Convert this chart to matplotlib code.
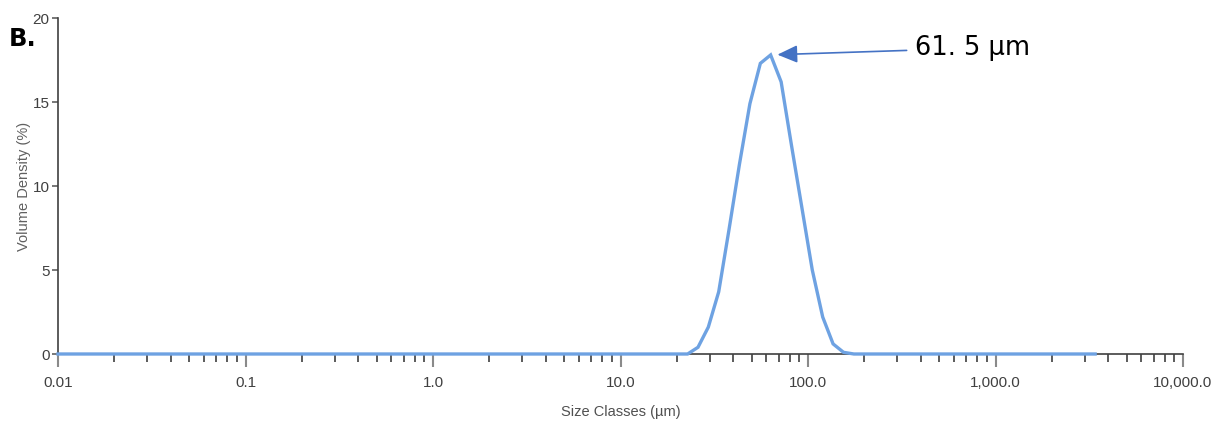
import matplotlib
matplotlib.use("Agg")
import matplotlib.pyplot as plt
from matplotlib.ticker import FixedLocator, LogLocator, NullFormatter

# ---- data ----
size_um = [0.01, 22.8, 25.9, 29.4, 33.4, 37.9, 43.1, 49.0, 55.7, 63.2, 71.9,
           81.7, 92.8, 105.4, 119.8, 136.1, 154.7, 175.7, 3400]
volume_pct = [0, 0, 0.4, 1.6, 3.7, 7.4, 11.3, 14.9, 17.3, 17.8, 16.2,
              12.4, 8.7, 5.0, 2.2, 0.6, 0.1, 0, 0]
x_ticks = [0.01, 0.1, 1.0, 10.0, 100.0, 1000.0, 10000.0]
x_tick_labels = ["0.01", "0.1", "1.0", "10.0", "100.0", "1,000.0", "10,000.0"]
y_ticks = [0, 5, 10, 15, 20]
y_tick_labels = ["0", "5", "10", "15", "20"]
peak_label = "61. 5 µm"
peak_size = 61.5
panel_label = "B."

narrow = ["Liberation Sans Narrow", "DejaVu Sans Condensed", "Liberation Sans", "DejaVu Sans"]

fig = plt.figure(figsize=(12.17, 4.26), dpi=100)
ax = fig.add_axes([58 / 1217, 72 / 426, 1125 / 1217, 336 / 426])

ax.plot(size_um, volume_pct, color="#6EA2E2", lw=2.4, clip_on=False, zorder=5,
        solid_joinstyle="miter")

ax.set_xscale("log")
ax.set_xlim(0.01, 10000)
ax.set_ylim(0, 20)

for s in ["top", "right"]:
    ax.spines[s].set_visible(False)
for s in ["left", "bottom"]:
    ax.spines[s].set_color("#404040")
    ax.spines[s].set_linewidth(1.2)

ax.xaxis.set_major_locator(FixedLocator(x_ticks))
ax.set_xticklabels(x_tick_labels)
ax.xaxis.set_minor_locator(LogLocator(base=10, subs=range(2, 10), numticks=20))
ax.xaxis.set_minor_formatter(NullFormatter())
ax.tick_params(axis="x", which="major", length=9.5, width=1.5, color="#8a8a8a",
               pad=6, labelsize=11, labelcolor="#404040")
ax.tick_params(axis="x", which="minor", length=6, width=1.2, color="#404040")

ax.set_yticks(y_ticks)
ax.set_yticklabels(y_tick_labels)
ax.tick_params(axis="y", which="major", length=4, width=1.2, color="#606060",
               pad=2, labelsize=11, labelcolor="#404040")

for lab in ax.get_xticklabels() + ax.get_yticklabels():
    lab.set_family(narrow)

ax.set_xlabel("Size Classes (µm)", family=narrow, fontsize=10.5, color="#505050",
              labelpad=11)
ax.set_ylabel("Volume Density (%)", family=narrow, fontsize=10.5, color="#606060",
              labelpad=1)

peak_val = max(volume_pct)
ax.annotate(peak_label, xy=(peak_size, peak_val), xytext=(372, 18.2),
            textcoords="data", ha="left", va="center", fontsize=18.5,
            family="DejaVu Sans", color="black",
            arrowprops=dict(arrowstyle="-|>,head_length=0.61,head_width=0.27",
                            mutation_scale=20, color="#4472C4", lw=1.2,
                            shrinkA=4, shrinkB=6.5))

fig.text(9 / 1217, 1 - 46 / 426, panel_label, fontsize=17.5, fontweight="bold",
         family="DejaVu Sans", ha="left", va="baseline")

fig.savefig("out.png", dpi=100)
